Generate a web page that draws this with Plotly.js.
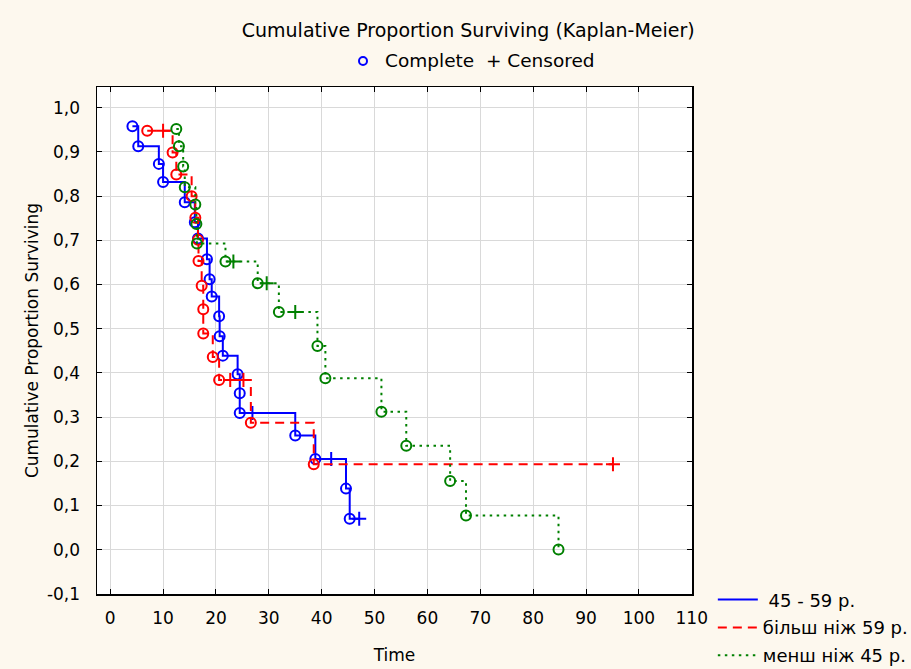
<!DOCTYPE html>
<html>
<head>
<meta charset="utf-8">
<script src="https://cdn.plot.ly/plotly-3.0.1.min.js"></script>
<style>
  html, body { margin: 0; padding: 0; background: #fdf8ee; }
  #chart { width: 911px; height: 669px; }
</style>
</head>
<body>
<div id="chart"></div>
<script>
// Kaplan-Meier survival estimates per age group.
// cens: 1 = censored observation, 0 = complete (event) observation.

const groupNames = [' 45 - 59 р.', 'більш ніж 59 р.', 'менш ніж 45 р.'];

const midTime = [4.2, 5.3, 9.2, 10.0, 14.1, 16.0, 16.6, 18.3, 18.8, 19.2, 20.6, 20.7,
                 21.3, 24.1, 24.5, 24.5, 26.9, 35.0, 38.8, 41.8, 44.6, 45.3, 47.1];
const midSurv = [0.958, 0.913, 0.873, 0.832, 0.786, 0.741, 0.704, 0.657, 0.612, 0.573, 0.528, 0.483,
                 0.439, 0.397, 0.354, 0.309, 0.309, 0.258, 0.205, 0.205, 0.138, 0.070, 0.070];
const midCens = [0, 0, 0, 0, 0, 0, 0, 0, 0, 0, 0, 0,
                 0, 0, 0, 0, 1, 0, 0, 1, 0, 0, 1];

const oldTime = [7.0, 10.0, 11.8, 12.5, 15.4, 16.1, 16.6, 16.7, 17.3, 17.6, 17.6, 19.4,
                 20.6, 22.7, 25.2, 26.6, 38.5, 95.1];
const oldSurv = [0.948, 0.948, 0.899, 0.849, 0.800, 0.751, 0.701, 0.653, 0.597, 0.544, 0.489, 0.436,
                 0.384, 0.384, 0.384, 0.287, 0.193, 0.193];
const oldCens = [0, 1, 0, 0, 0, 0, 0, 0, 0, 0, 0, 0,
                 0, 1, 1, 0, 0, 1];

const youngTime = [12.5, 13.0, 13.8, 14.1, 16.1, 16.3, 16.4, 21.8, 23.3, 27.9, 29.6, 31.9,
                   35.0, 39.2, 40.7, 51.3, 56.0, 64.3, 67.3, 84.8];
const youngSurv = [0.952, 0.913, 0.867, 0.820, 0.781, 0.737, 0.693, 0.652, 0.652, 0.603, 0.603, 0.538,
                   0.538, 0.461, 0.388, 0.312, 0.235, 0.155, 0.077, 0.0];
const youngCens = [0, 0, 0, 0, 0, 0, 0, 0, 1, 0, 1, 0,
                   1, 0, 0, 0, 0, 0, 0, 0];

const xTicks = [0, 10, 20, 30, 40, 50, 60, 70, 80, 90, 100, 110];
const yTicks = [-0.1, 0.0, 0.1, 0.2, 0.3, 0.4, 0.5, 0.6, 0.7, 0.8, 0.9, 1.0];
const yTickText = ['-0,1', '0,0', '0,1', '0,2', '0,3', '0,4', '0,5', '0,6', '0,7', '0,8', '0,9', '1,0'];

const groups = [
  { name: groupNames[0], t: midTime,   s: midSurv,   c: midCens,   color: '#0000ff', dash: 'solid' },
  { name: groupNames[1], t: oldTime,   s: oldSurv,   c: oldCens,   color: '#ff0000', dash: '9px,6px' },
  { name: groupNames[2], t: youngTime, s: youngSurv, c: youngCens, color: '#008000', dash: '2.5px,4.5px' }
];

function pick(arr, flags, want) {
  return arr.filter((_, i) => flags[i] === want);
}

const traces = [];
groups.forEach((g, k) => {
  // step curve
  traces.push({
    type: 'scatter', mode: 'lines', name: g.name,
    x: g.t, y: g.s,
    line: { shape: 'hv', color: g.color, width: 2, dash: g.dash },
    legendgroup: 'g' + k, showlegend: true, hoverinfo: 'skip'
  });
  // complete observations
  traces.push({
    type: 'scatter', mode: 'markers', name: g.name + ' complete',
    x: pick(g.t, g.c, 0), y: pick(g.s, g.c, 0),
    marker: { symbol: 'circle-open', size: 10, color: g.color, line: { width: 2, color: g.color } },
    legendgroup: 'g' + k, showlegend: false
  });
  // censored observations
  traces.push({
    type: 'scatter', mode: 'markers', name: g.name + ' censored',
    x: pick(g.t, g.c, 1), y: pick(g.s, g.c, 1),
    marker: { symbol: 'cross-thin-open', size: 10, color: g.color, line: { width: 2, color: g.color } },
    legendgroup: 'g' + k, showlegend: false
  });
});

const fontFamily = 'DejaVu Sans, Liberation Sans, Arial, sans-serif';

const layout = {
  width: 911, height: 669,
  paper_bgcolor: '#fdf8ee',
  plot_bgcolor: '#ffffff',
  margin: { l: 97, r: 219, t: 87, b: 75, pad: 0, autoexpand: false },
  separators: ', ',
  font: { family: fontFamily, size: 17, color: '#000000' },
  showlegend: true,
  title: {
    text: 'Cumulative Proportion Surviving (Kaplan-Meier)',
    xref: 'container', yref: 'container',
    x: 0.514, xanchor: 'center', y: 0.955, yanchor: 'middle',
    font: { family: fontFamily, size: 19, color: '#000000' }
  },
  xaxis: {
    range: [-2.5, 110.05],
    tickvals: xTicks,
    ticktext: xTicks.map(String),
    ticks: 'inside', ticklen: 5, tickwidth: 1, tickcolor: '#000000',
    showline: true, linecolor: '#000000', linewidth: 1.5, mirror: 'ticks',
    showgrid: true, gridcolor: '#d9d9d9', gridwidth: 1,
    zeroline: false, automargin: false,
    ticklabelstandoff: 8,
    tickfont: { size: 17 },
    title: { text: 'Time', font: { size: 17 }, standoff: 22 }
  },
  yaxis: {
    range: [-0.1005, 1.047],
    tickvals: yTicks,
    ticktext: yTickText,
    ticks: 'inside', ticklen: 5, tickwidth: 1, tickcolor: '#000000',
    showline: true, linecolor: '#000000', linewidth: 1.5, mirror: 'ticks',
    showgrid: true, gridcolor: '#d9d9d9', gridwidth: 1,
    zeroline: false, automargin: false,
    ticklabelstandoff: 12,
    tickfont: { size: 17 },
    title: { text: 'Cumulative Proportion Surviving', font: { size: 17 }, standoff: 4 }
  },
  legend: {
    x: 1.035, xanchor: 'left', xref: 'paper',
    y: 0.025, yanchor: 'top', yref: 'paper',
    bgcolor: 'rgba(0,0,0,0)', borderwidth: 0,
    font: { family: fontFamily, size: 18 },
    itemwidth: 40,
    tracegroupgap: 1.5,
    traceorder: 'grouped'
  },
  shapes: [
    {
      type: 'circle', xref: 'paper', yref: 'paper',
      x0: (359 - 97) / 595, x1: (367 - 97) / 595,
      y0: (594 - 65) / 507, y1: (594 - 57) / 507,
      line: { color: '#0000ff', width: 2 }
    }
  ],
  annotations: [
    {
      text: 'Complete  + Censored', showarrow: false,
      xref: 'paper', yref: 'paper',
      x: (490 - 97) / 595, xanchor: 'center',
      y: (594 - 61) / 507, yanchor: 'middle',
      font: { family: fontFamily, size: 18.5, color: '#000000' }
    }
  ]
};

Plotly.newPlot('chart', traces, layout, { displayModeBar: false, staticPlot: true });
</script>
</body>
</html>
